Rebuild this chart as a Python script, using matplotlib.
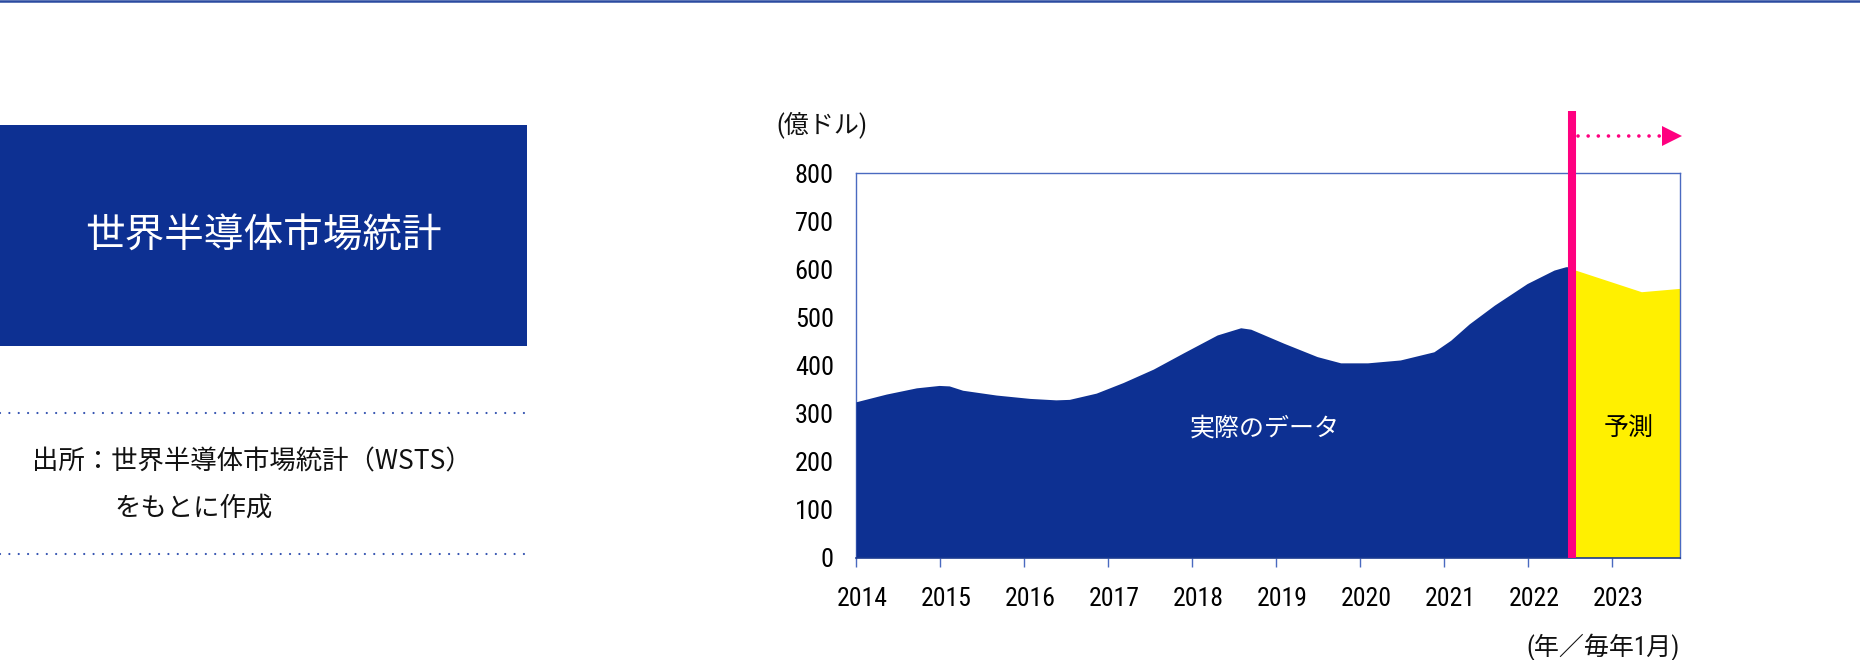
import matplotlib
matplotlib.use("Agg")
import matplotlib.pyplot as plt
import matplotlib.font_manager as fm
from matplotlib.patches import Rectangle
from matplotlib.lines import Line2D
from matplotlib.transforms import ScaledTranslation

# ---------------- data ----------------
actual_years = [2014.0, 2014.36, 2014.72, 2014.99, 2015.11, 2015.27, 2015.67, 2016.07,
                2016.38, 2016.54, 2016.86, 2017.18, 2017.54, 2017.9, 2018.3, 2018.58,
                2018.7, 2019.09, 2019.49, 2019.77, 2020.09, 2020.48, 2020.88, 2021.08,
                2021.3, 2021.6, 2021.99, 2022.31, 2022.45, 2022.53]
actual_values = [324, 340, 353, 358, 357, 348, 338, 331,
                 328, 329, 342, 364, 392, 426, 463, 478,
                 475, 446, 418, 405, 405, 411, 428, 452,
                 486, 525, 570, 598, 605, 605]
forecast_years = [2022.53, 2023.35, 2023.81]
forecast_values = [600, 553, 560]

x_ticks = [2014, 2015, 2016, 2017, 2018, 2019, 2020, 2021, 2022, 2023]
x_tick_labels = ["2014", "2015", "2016", "2017", "2018", "2019", "2020", "2021", "2022", "2023"]
y_ticks = [0, 100, 200, 300, 400, 500, 600, 700, 800]
y_tick_labels = ["0", "100", "200", "300", "400", "500", "600", "700", "800"]

title_text = "世界半導体市場統計"
source_line1 = "出所：世界半導体市場統計（WSTS）"
source_line2 = "をもとに作成"
y_unit = "(億ドル)"
x_unit = "(年／毎年1月)"
actual_label = "実際のデータ"
forecast_label = "予測"

# ---------------- style ----------------
BLUE = "#0D3092"
YELLOW = "#FFF000"
PINK = "#FF0080"
SPINE = "#4A6AC0"
DOT = "#3352B0"
JP_FONT = ["Noto Sans CJK JP", "DejaVu Sans"]


def pick_condensed():
    best, best_rank = None, 99
    for f in fm.fontManager.ttflist:
        if f.style != "normal":
            continue
        w = f.weight
        if isinstance(w, str):
            if w.lower() not in ("normal", "regular", "book", "400"):
                continue
        elif w != 400:
            continue
        nm = f.name
        st = str(f.stretch)
        rank = None
        if nm == "Liberation Sans Narrow":
            rank = 0
        elif "Roboto Condensed" in nm:
            rank = 1
        elif nm == "DejaVu Sans" and st in ("condensed", "semi-condensed"):
            rank = 2
        elif ("Narrow" in nm or "Condensed" in nm or st in ("condensed", "semi-condensed")) \
                and "Mono" not in nm and "Serif" not in nm:
            rank = 3
        if rank is not None and rank < best_rank:
            best, best_rank = f, rank
    return best


cf = pick_condensed()
if cf is not None:
    NUM_FONT = [cf.name, "Noto Sans CJK JP", "DejaVu Sans"]
    NUM_STRETCH = cf.stretch
else:
    NUM_FONT = ["Noto Sans CJK JP", "DejaVu Sans"]
    NUM_STRETCH = "normal"

plt.rcParams["font.family"] = JP_FONT

fig = plt.figure(figsize=(18.6, 6.6), dpi=100)
W, H = 1860.0, 660.0

# top border line
fig.add_artist(Line2D([0, 1], [1 - 1.2 / H, 1 - 1.2 / H], color="#2B4AA0", lw=1.8))

# left title box
fig.add_artist(Rectangle((0, 1 - 346 / H), 527 / W, 221 / H, transform=fig.transFigure,
                         facecolor=BLUE, edgecolor="none"))
fig.text(263 / W, 1 - 237 / H, title_text, color="white", fontsize=28.5,
         ha="center", va="center", family=JP_FONT)

# dotted separators
for yy in (413, 554):
    fig.add_artist(Line2D([0, 527 / W], [1 - yy / H, 1 - yy / H], color=DOT, lw=1.6,
                          linestyle=(0, (0.01, 4.2)), dash_capstyle="round"))

fig.text(32 / W, 1 - 462 / H, source_line1, fontsize=19, ha="left", va="center",
         family=JP_FONT, color="#111111")
fig.text(114 / W, 1 - 508 / H, source_line2, fontsize=19, ha="left", va="center",
         family=JP_FONT, color="#111111")

# ---------------- chart ----------------
ax = fig.add_axes([856 / W, 1 - 557.5 / H, 824 / W, 384.5 / H])
xmin, xmax = 2014.0, forecast_years[-1]
ax.set_xlim(xmin, xmax)
ax.set_ylim(0, 800)

ax.fill_between(actual_years, actual_values, 0, color=BLUE, lw=0, zorder=2)
ax.fill_between(forecast_years, forecast_values, 0, color=YELLOW, lw=0, zorder=2)

split = forecast_years[0]
ax.plot([split, split], [0, 930], color=PINK, lw=5.8, clip_on=False, zorder=5,
        solid_capstyle="butt")

# forecast arrow
arrow_y = 876
ax.plot([split + 0.07, xmax - 0.2], [arrow_y, arrow_y], color=PINK, lw=2.6,
        linestyle=(0, (0.01, 2.8)), dash_capstyle="round", clip_on=False, zorder=5)
ax.plot([xmax - 0.1], [arrow_y], marker=">", color=PINK, markersize=14,
        markeredgewidth=0, clip_on=False, zorder=5)

# labels inside
ax.text(2018.87, 268, actual_label, color="white", fontsize=18, ha="center",
        va="center", family=JP_FONT, zorder=6)
ax.text(2023.2, 268, forecast_label, color="black", fontsize=18, ha="center",
        va="center", family=JP_FONT, zorder=6)

# spines
for side in ("left", "top", "right"):
    ax.spines[side].set_color(SPINE)
    ax.spines[side].set_linewidth(1.0)
ax.spines["bottom"].set_color("#1A3A8F")
ax.spines["bottom"].set_linewidth(1.2)
ax.spines["left"].set_zorder(1)

ax.set_xticks(x_ticks)
ax.set_xticklabels(x_tick_labels, family=NUM_FONT, fontsize=18.5, fontstretch=NUM_STRETCH)
ax.set_yticks(y_ticks)
ax.set_yticklabels(y_tick_labels, family=NUM_FONT, fontsize=19, fontstretch=NUM_STRETCH)
ax.tick_params(axis="x", direction="out", length=6.5, width=1.0, color=SPINE, pad=15)
ax.tick_params(axis="y", length=0, pad=16)
for lab in ax.get_xticklabels():
    lab.set_transform(lab.get_transform() + ScaledTranslation(6 / 100, 0, fig.dpi_scale_trans))

fig.text(776 / W, 1 - 125 / H, y_unit, fontsize=18, ha="left", va="center",
         family=NUM_FONT, fontstretch=NUM_STRETCH, color="#111111")
fig.text(1680 / W, 1 - 647 / H, x_unit, fontsize=18, ha="right", va="center",
         family=NUM_FONT, fontstretch=NUM_STRETCH, color="#111111")

fig.savefig("out.png", dpi=100)
